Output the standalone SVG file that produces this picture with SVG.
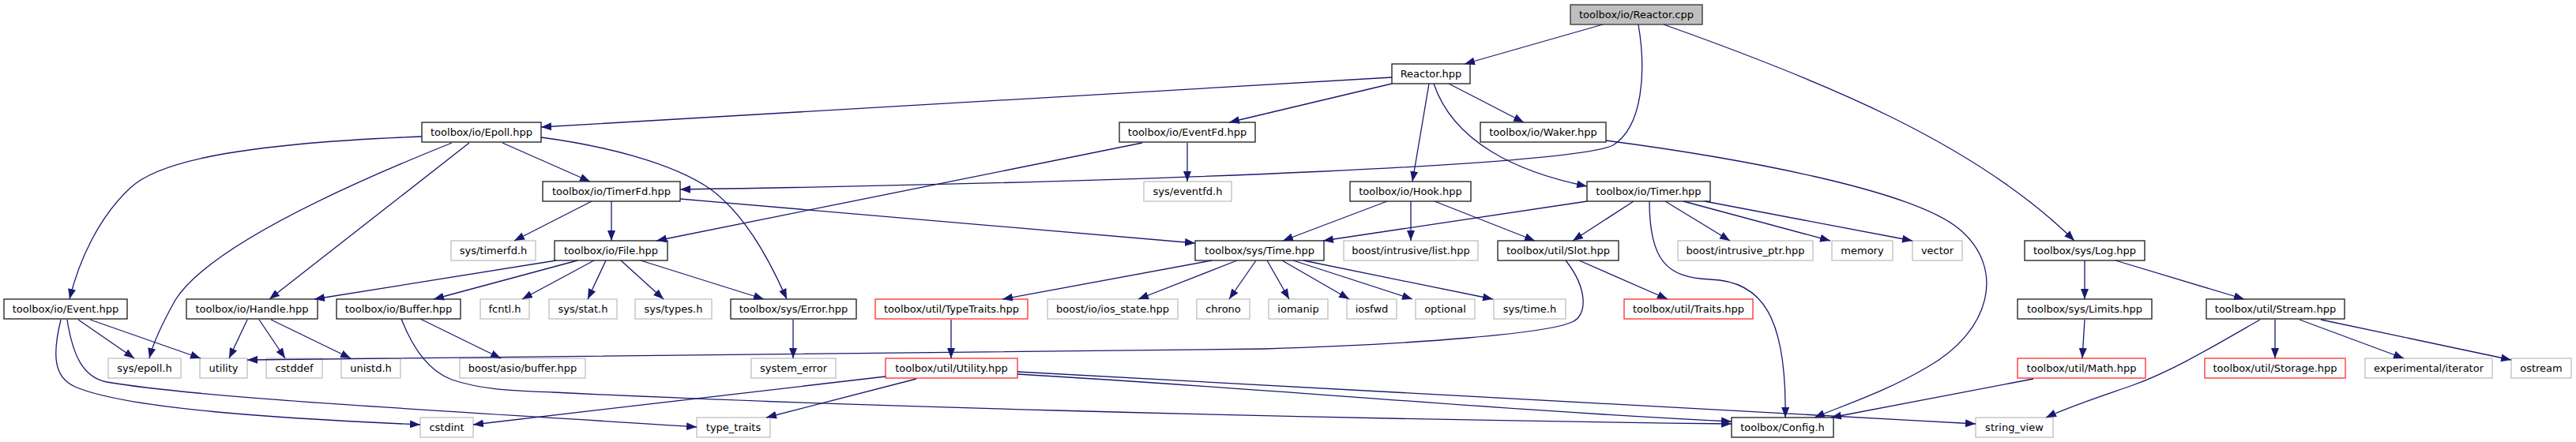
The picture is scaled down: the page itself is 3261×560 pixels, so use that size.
<svg xmlns="http://www.w3.org/2000/svg" width="3261" height="560" viewBox="0 0 3261 560">
<style>
rect.n{fill:#fff;stroke:#1a1a1a;stroke-width:1.3}
rect.g{fill:#fff;stroke:#bfbfbf;stroke-width:1.3}
rect.r{fill:#fff;stroke:#ff2a2a;stroke-width:1.3}
rect.c{fill:#bfbfbf;stroke:#333;stroke-width:1.3}
text{font-family:"DejaVu Sans","Liberation Sans",sans-serif;font-size:13px;fill:#000;text-anchor:middle}
#edges path{fill:none;stroke:#191970;stroke-width:1.3;marker-end:url(#a)}
</style>
<defs>
<marker id="a" viewBox="0 0 13 10" refX="13" refY="5" markerWidth="13" markerHeight="10" markerUnits="userSpaceOnUse" orient="auto"><path d="M0,0 L13,5 L0,10 z" fill="#191970"/></marker>
</defs>
<rect x="0" y="0" width="3261" height="560" fill="#fff"/>
<g id="nodes">
<g id="n_reactor_cpp"><rect class="c" x="1988" y="6" width="167" height="25"/><text x="2071.5" y="23">toolbox/io/Reactor.cpp</text></g>
<g id="n_reactor_hpp"><rect class="n" x="1762" y="81" width="99" height="25"/><text x="1811.5" y="98">Reactor.hpp</text></g>
<g id="n_epoll"><rect class="n" x="534" y="155" width="151" height="25"/><text x="609.5" y="172">toolbox/io/Epoll.hpp</text></g>
<g id="n_eventfd"><rect class="n" x="1417" y="155" width="172" height="25"/><text x="1503" y="172">toolbox/io/EventFd.hpp</text></g>
<g id="n_waker"><rect class="n" x="1874" y="155" width="159" height="25"/><text x="1953.5" y="172">toolbox/io/Waker.hpp</text></g>
<g id="n_timerfd"><rect class="n" x="687" y="230" width="174" height="25"/><text x="774" y="247">toolbox/io/TimerFd.hpp</text></g>
<g id="n_eventfd_h"><rect class="g" x="1448" y="230" width="111" height="25"/><text x="1503.5" y="247">sys/eventfd.h</text></g>
<g id="n_hook"><rect class="n" x="1709" y="230" width="153" height="25"/><text x="1785.5" y="247">toolbox/io/Hook.hpp</text></g>
<g id="n_timer"><rect class="n" x="2009" y="230" width="156" height="25"/><text x="2087" y="247">toolbox/io/Timer.hpp</text></g>
<g id="n_timerfd_h"><rect class="g" x="571" y="305" width="107" height="25"/><text x="624.5" y="322">sys/timerfd.h</text></g>
<g id="n_file"><rect class="n" x="702" y="305" width="143" height="25"/><text x="773.5" y="322">toolbox/io/File.hpp</text></g>
<g id="n_time"><rect class="n" x="1513" y="305" width="163" height="25"/><text x="1594.5" y="322">toolbox/sys/Time.hpp</text></g>
<g id="n_intrusive_list"><rect class="g" x="1701" y="305" width="170" height="25"/><text x="1786" y="322">boost/intrusive/list.hpp</text></g>
<g id="n_slot"><rect class="n" x="1896" y="305" width="153" height="25"/><text x="1972.5" y="322">toolbox/util/Slot.hpp</text></g>
<g id="n_intrusive_ptr"><rect class="g" x="2124" y="305" width="171" height="25"/><text x="2209.5" y="322">boost/intrusive_ptr.hpp</text></g>
<g id="n_memory"><rect class="g" x="2319" y="305" width="77" height="25"/><text x="2357.5" y="322">memory</text></g>
<g id="n_vector"><rect class="g" x="2421" y="305" width="63" height="25"/><text x="2452.5" y="322">vector</text></g>
<g id="n_log"><rect class="n" x="2563" y="305" width="152" height="25"/><text x="2639" y="322">toolbox/sys/Log.hpp</text></g>
<g id="n_event"><rect class="n" x="5" y="379" width="156" height="25"/><text x="83" y="396">toolbox/io/Event.hpp</text></g>
<g id="n_handle"><rect class="n" x="236" y="379" width="166" height="25"/><text x="319" y="396">toolbox/io/Handle.hpp</text></g>
<g id="n_buffer"><rect class="n" x="426" y="379" width="157" height="25"/><text x="504.5" y="396">toolbox/io/Buffer.hpp</text></g>
<g id="n_fcntl"><rect class="g" x="608" y="379" width="62" height="25"/><text x="639" y="396">fcntl.h</text></g>
<g id="n_stat"><rect class="g" x="695" y="379" width="86" height="25"/><text x="738" y="396">sys/stat.h</text></g>
<g id="n_types"><rect class="g" x="804" y="379" width="97" height="25"/><text x="852.5" y="396">sys/types.h</text></g>
<g id="n_error"><rect class="n" x="925" y="379" width="159" height="25"/><text x="1004.5" y="396">toolbox/sys/Error.hpp</text></g>
<g id="n_typetraits"><rect class="r" x="1108" y="379" width="193" height="25"/><text x="1204.5" y="396">toolbox/util/TypeTraits.hpp</text></g>
<g id="n_ios_state"><rect class="g" x="1326" y="379" width="165" height="25"/><text x="1408.5" y="396">boost/io/ios_state.hpp</text></g>
<g id="n_chrono"><rect class="g" x="1515" y="379" width="67" height="25"/><text x="1548.5" y="396">chrono</text></g>
<g id="n_iomanip"><rect class="g" x="1606" y="379" width="75" height="25"/><text x="1643.5" y="396">iomanip</text></g>
<g id="n_iosfwd"><rect class="g" x="1705" y="379" width="63" height="25"/><text x="1736.5" y="396">iosfwd</text></g>
<g id="n_optional"><rect class="g" x="1792" y="379" width="75" height="25"/><text x="1829.5" y="396">optional</text></g>
<g id="n_systime"><rect class="g" x="1891" y="379" width="91" height="25"/><text x="1936.5" y="396">sys/time.h</text></g>
<g id="n_traits"><rect class="r" x="2056" y="379" width="163" height="25"/><text x="2137.5" y="396">toolbox/util/Traits.hpp</text></g>
<g id="n_limits"><rect class="n" x="2554" y="379" width="170" height="25"/><text x="2639" y="396">toolbox/sys/Limits.hpp</text></g>
<g id="n_stream"><rect class="n" x="2793" y="379" width="175" height="25"/><text x="2880.5" y="396">toolbox/util/Stream.hpp</text></g>
<g id="n_epoll_h"><rect class="g" x="137" y="454" width="92" height="25"/><text x="183" y="471">sys/epoll.h</text></g>
<g id="n_utility"><rect class="g" x="253" y="454" width="60" height="25"/><text x="283" y="471">utility</text></g>
<g id="n_cstddef"><rect class="g" x="337" y="454" width="71" height="25"/><text x="372.5" y="471">cstddef</text></g>
<g id="n_unistd"><rect class="g" x="432" y="454" width="75" height="25"/><text x="469.5" y="471">unistd.h</text></g>
<g id="n_asio_buffer"><rect class="g" x="582" y="454" width="159" height="25"/><text x="661.5" y="471">boost/asio/buffer.hpp</text></g>
<g id="n_system_error"><rect class="g" x="951" y="454" width="107" height="25"/><text x="1004.5" y="471">system_error</text></g>
<g id="n_util_utility"><rect class="r" x="1121" y="454" width="167" height="25"/><text x="1204.5" y="471">toolbox/util/Utility.hpp</text></g>
<g id="n_math"><rect class="r" x="2554" y="454" width="162" height="25"/><text x="2635" y="471">toolbox/util/Math.hpp</text></g>
<g id="n_storage"><rect class="r" x="2791" y="454" width="178" height="25"/><text x="2880" y="471">toolbox/util/Storage.hpp</text></g>
<g id="n_exp_iter"><rect class="g" x="2994" y="454" width="161" height="25"/><text x="3074.5" y="471">experimental/iterator</text></g>
<g id="n_ostream"><rect class="g" x="3179" y="454" width="76" height="25"/><text x="3217" y="471">ostream</text></g>
<g id="n_cstdint"><rect class="g" x="532" y="529" width="67" height="25"/><text x="565.5" y="546">cstdint</text></g>
<g id="n_type_traits"><rect class="g" x="882" y="529" width="93" height="25"/><text x="928.5" y="546">type_traits</text></g>
<g id="n_config"><rect class="n" x="2192" y="529" width="129" height="25"/><text x="2256.5" y="546">toolbox/Config.h</text></g>
<g id="n_string_view"><rect class="g" x="2501" y="529" width="98" height="25"/><text x="2550" y="546">string_view</text></g>
</g>
<g id="edges">
<path d="M2029,31 L1854,81"/>
<path d="M2074,31 C2084,90 2080,160 2042,184 C1990,208 1500,230 861,240"/>
<path d="M2106,31 C2300,100 2500,180 2626,305"/>
<path d="M1762,98 L685,161"/>
<path d="M1762,106 L1556,155"/>
<path d="M1809,106 L1788,230"/>
<path d="M1834,106 L1929,155"/>
<path d="M1815,106 C1840,180 1920,218 2009,236"/>
<path d="M534,173 C300,182 200,205 165,238 C125,275 100,330 88,379"/>
<path d="M572,181 C400,250 260,320 222,380 C208,405 195,430 189,454"/>
<path d="M594,181 L341,379"/>
<path d="M636,181 L747,230"/>
<path d="M685,174 C760,184 850,205 900,240 C940,270 970,320 996,379"/>
<path d="M1446,181 L831,305"/>
<path d="M1503,181 L1503,230"/>
<path d="M2033,178 C2200,200 2420,240 2480,290 C2540,340 2520,420 2440,465 C2390,495 2330,515 2297,529"/>
<path d="M749,255 L651,305"/>
<path d="M774,255 L774,305"/>
<path d="M861,252 L1513,308"/>
<path d="M1756,255 L1624,305"/>
<path d="M1786,255 L1786,305"/>
<path d="M1816,255 L1943,305"/>
<path d="M2009,255 L1675,305"/>
<path d="M2068,255 L1991,305"/>
<path d="M2108,255 L2190,305"/>
<path d="M2131,255 L2317,305"/>
<path d="M2158,255 L2421,305"/>
<path d="M2088,255 C2088,330 2110,352 2165,354 C2230,356 2262,400 2260,529"/>
<path d="M704,330 L398,379"/>
<path d="M731,330 L549,379"/>
<path d="M752,330 L661,379"/>
<path d="M767,330 L744,379"/>
<path d="M786,330 L840,379"/>
<path d="M811,330 L967,379"/>
<path d="M1534,330 L1269,379"/>
<path d="M1566,330 L1441,379"/>
<path d="M1590,330 L1556,379"/>
<path d="M1604,330 L1632,379"/>
<path d="M1623,330 L1708,379"/>
<path d="M1637,330 L1788,379"/>
<path d="M1650,330 L1890,379"/>
<path d="M1999,330 L2111,379"/>
<path d="M1982,330 C2010,365 2010,400 1990,408 C1960,422 1800,436 1600,442 L313,456"/>
<path d="M2639,330 L2639,379"/>
<path d="M2678,330 L2841,379"/>
<path d="M99,405 L170,454"/>
<path d="M114,405 L254,454"/>
<path d="M77,405 C66,450 68,478 95,490 C160,518 350,530 532,538"/>
<path d="M85,405 C92,450 105,478 135,484 C260,505 560,520 882,541"/>
<path d="M313,405 L290,454"/>
<path d="M328,405 L361,454"/>
<path d="M343,405 L444,454"/>
<path d="M532,404 L634,454"/>
<path d="M508,404 C522,440 542,470 572,481 C610,494 650,495 700,497 C1000,512 1600,530 2192,537"/>
<path d="M1004,405 L1004,454"/>
<path d="M1204,405 L1204,454"/>
<path d="M1121,477 L599,538"/>
<path d="M1160,480 L970,529"/>
<path d="M1288,474 C1600,492 1900,520 2192,534"/>
<path d="M1288,471 C1700,490 2100,515 2501,537"/>
<path d="M2639,405 L2636,454"/>
<path d="M2574,480 L2318,529"/>
<path d="M2861,405 C2800,440 2750,470 2700,488 C2660,502 2620,515 2590,529"/>
<path d="M2880,405 L2880,454"/>
<path d="M2911,405 L3043,454"/>
<path d="M2938,405 L3179,456"/>
</g>
</svg>
